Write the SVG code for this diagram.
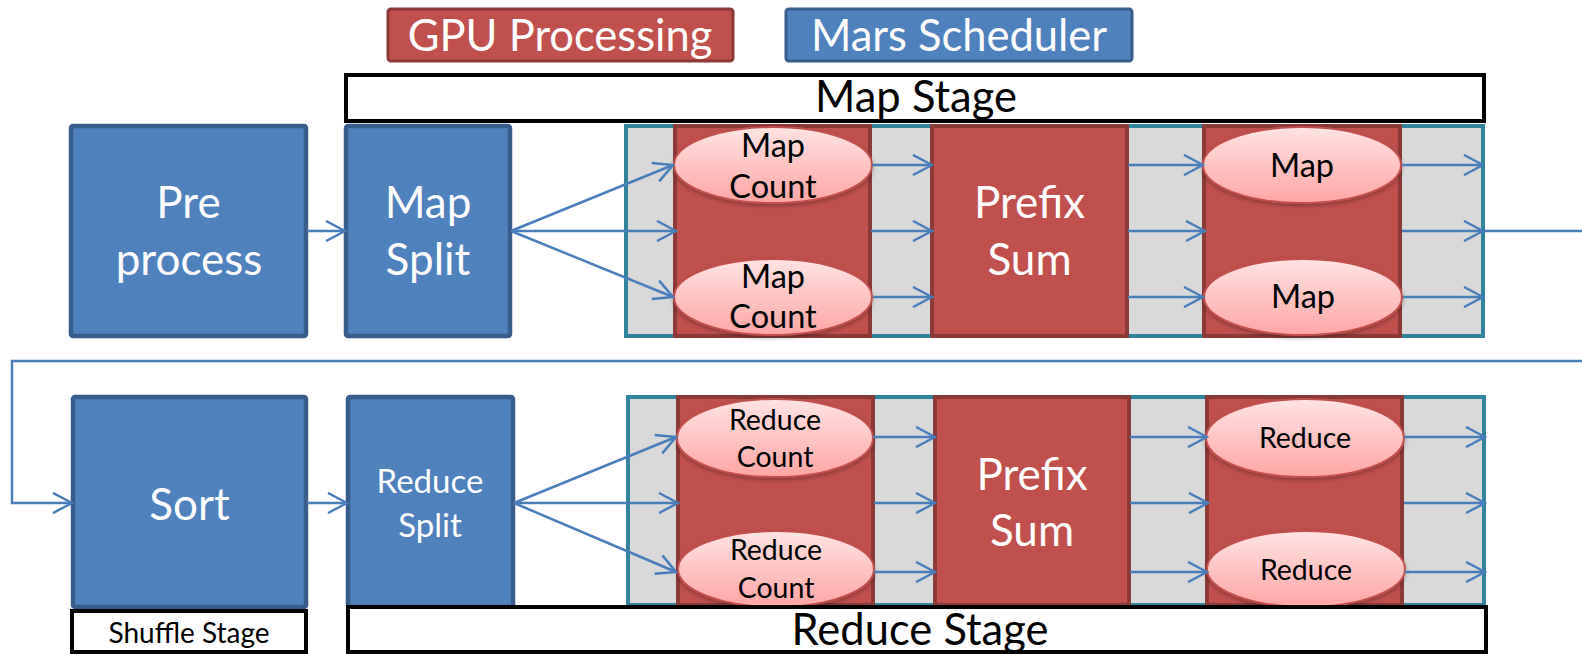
<svg xmlns="http://www.w3.org/2000/svg" width="1582" height="654" viewBox="0 0 1582 654">
<defs>
<style>
.blue{fill:#4F81BD;stroke:#385D8A;stroke-width:4.5}
.red{fill:#C0504D;stroke:#8C3A38;stroke-width:4}
.cont{fill:#D9D9D9;stroke:#31849B;stroke-width:4}
.stage{fill:#FFFFFF;stroke:#000000;stroke-width:4}
.ell{fill:url(#pink);stroke:#C0504D;stroke-width:2;filter:url(#sh)}
.conn{fill:none;stroke:#4A7EBB;stroke-width:2.5;marker-end:url(#arr)}
.line{fill:none;stroke:#4A7EBB;stroke-width:2.5}
text{font-family:Lato,"Liberation Sans",sans-serif;text-anchor:middle}
.w{fill:#FFFFFF}
.k{fill:#000000}
.big{font-size:44px}
.leg{font-size:43.5px}
.mid{font-size:32.5px}
.sm{font-size:28.5px}
.stg{font-size:43.5px}
</style>
<linearGradient id="pink" x1="0" y1="0" x2="0" y2="1">
<stop offset="0" stop-color="#FFE3E3"/>
<stop offset="1" stop-color="#FFA5A5"/>
</linearGradient>
<filter id="sh" x="-10%" y="-10%" width="120%" height="130%">
<feDropShadow dx="0" dy="2" stdDeviation="2" flood-color="#000000" flood-opacity="0.3"/>
</filter>
<marker id="arr" viewBox="0 0 22 22" refX="20" refY="11" markerWidth="22" markerHeight="22" markerUnits="userSpaceOnUse" orient="auto">
<path d="M1,1 L20,11 L1,21" fill="none" stroke="#4A7EBB" stroke-width="2.5"/>
</marker>
</defs>

<g id="legend-gpu">
<rect x="388" y="9" width="345" height="52" rx="3" fill="#C0504D" stroke="#8C3A38" stroke-width="3"/>
<text class="w leg" x="560" y="51">GPU Processing</text>
</g>
<g id="legend-mars">
<rect x="786" y="9" width="346" height="52" rx="3" fill="#4F81BD" stroke="#385D8A" stroke-width="3"/>
<text class="w leg" x="959" y="51">Mars Scheduler</text>
</g>

<g id="map-stage">
<rect class="stage" x="346" y="75" width="1138" height="46"/>
<text class="k stg" x="916" y="112">Map Stage</text>
</g>

<g id="preprocess">
<rect class="blue" x="71" y="126" width="235" height="210" rx="2"/>
<text class="w big" x="188.5" y="218">Pre</text>
<text class="w big" x="189" y="275">process</text>
</g>
<g id="map-split">
<rect class="blue" x="346" y="126" width="164" height="210" rx="2"/>
<text class="w big" x="428" y="218">Map</text>
<text class="w big" x="428" y="275">Split</text>
</g>

<g id="map-container">
<rect class="cont" x="626" y="126" width="857" height="210"/>
</g>
<g id="map-count-col">
<rect class="red" x="675" y="126" width="195" height="210"/>
</g>
<g id="map-count-1">
<ellipse class="ell" cx="773" cy="165" rx="99" ry="38"/>
<text class="k mid" x="773" y="157">Map</text>
<text class="k mid" x="773" y="198">Count</text>
</g>
<g id="map-count-2">
<ellipse class="ell" cx="773" cy="297" rx="99" ry="38"/>
<text class="k mid" x="773" y="288">Map</text>
<text class="k mid" x="773" y="328">Count</text>
</g>
<g id="map-prefix-sum">
<rect class="red" x="932" y="126" width="195" height="210"/>
<text class="w big" x="1029.5" y="218">Prefix</text>
<text class="w big" x="1029.5" y="275">Sum</text>
</g>
<g id="map-col">
<rect class="red" x="1204" y="126" width="196" height="210"/>
</g>
<g id="map-1">
<ellipse class="ell" cx="1302" cy="165" rx="99" ry="38"/>
<text class="k mid" x="1302" y="177">Map</text>
</g>
<g id="map-2">
<ellipse class="ell" cx="1303" cy="297" rx="99" ry="38"/>
<text class="k mid" x="1303" y="308">Map</text>
</g>

<g id="sort">
<rect class="blue" x="73" y="397" width="233" height="210" rx="2"/>
<text class="w big" x="189.5" y="520">Sort</text>
</g>
<g id="shuffle-stage">
<rect class="stage" x="72" y="611" width="234" height="41"/>
<text class="k" style="font-size:28px" x="189" y="643">Shuffle Stage</text>
</g>
<g id="reduce-split">
<rect class="blue" x="348" y="397" width="165" height="210" rx="2"/>
<text class="w" style="font-size:33px" x="430" y="493">Reduce</text>
<text class="w" style="font-size:33px" x="430" y="537">Split</text>
</g>

<g id="reduce-container">
<rect class="cont" x="628" y="397" width="856" height="208"/>
</g>
<g id="reduce-count-col">
<rect class="red" x="678" y="397" width="195" height="208"/>
</g>
<g id="reduce-count-1">
<ellipse class="ell" cx="775" cy="438" rx="98" ry="39"/>
<text class="k sm" x="775" y="430">Reduce</text>
<text class="k sm" x="775" y="467">Count</text>
</g>
<g id="reduce-count-2">
<ellipse class="ell" cx="776" cy="569" rx="98" ry="38"/>
<text class="k sm" x="776" y="560">Reduce</text>
<text class="k sm" x="776" y="598">Count</text>
</g>
<g id="reduce-prefix-sum">
<rect class="red" x="935" y="397" width="194" height="208"/>
<text class="w big" x="1032" y="490">Prefix</text>
<text class="w big" x="1032" y="546">Sum</text>
</g>
<g id="reduce-col">
<rect class="red" x="1207" y="397" width="195" height="208"/>
</g>
<g id="reduce-1">
<ellipse class="ell" cx="1305" cy="438" rx="99" ry="39"/>
<text class="k sm" x="1305" y="448">Reduce</text>
</g>
<g id="reduce-2">
<ellipse class="ell" cx="1306" cy="569" rx="99" ry="38"/>
<text class="k sm" x="1306" y="580">Reduce</text>
</g>

<g id="reduce-stage">
<rect class="stage" x="348" y="607" width="1138" height="45"/>
<text class="k stg" x="920" y="645">Reduce Stage</text>
</g>

<g id="connectors">
<line class="conn" x1="307" y1="231" x2="345" y2="231"/>
<line class="conn" x1="511" y1="231" x2="673" y2="165"/>
<line class="conn" x1="511" y1="231" x2="676" y2="231"/>
<line class="conn" x1="511" y1="231" x2="673" y2="297"/>
<line class="conn" x1="872" y1="165" x2="932" y2="165"/>
<line class="conn" x1="871" y1="231" x2="932" y2="231"/>
<line class="conn" x1="873" y1="297" x2="932" y2="297"/>
<line class="conn" x1="1128" y1="165" x2="1203" y2="165"/>
<line class="conn" x1="1128" y1="231" x2="1205" y2="231"/>
<line class="conn" x1="1128" y1="297" x2="1203" y2="297"/>
<line class="conn" x1="1402" y1="165" x2="1483" y2="165"/>
<line class="conn" x1="1402" y1="231" x2="1483" y2="231"/>
<line class="conn" x1="1403" y1="297" x2="1483" y2="297"/>
<line class="line" x1="1483" y1="231" x2="1582" y2="231"/>
<path class="conn" d="M1582,361 L12,361 L12,503 L72,503"/>
<line class="conn" x1="307" y1="503" x2="347" y2="503"/>
<line class="conn" x1="514" y1="503" x2="676" y2="437"/>
<line class="conn" x1="514" y1="503" x2="678" y2="503"/>
<line class="conn" x1="514" y1="503" x2="676" y2="572"/>
<line class="conn" x1="873" y1="437" x2="935" y2="437"/>
<line class="conn" x1="874" y1="503" x2="935" y2="503"/>
<line class="conn" x1="874" y1="572" x2="935" y2="572"/>
<line class="conn" x1="1130" y1="437" x2="1207" y2="437"/>
<line class="conn" x1="1130" y1="503" x2="1208" y2="503"/>
<line class="conn" x1="1130" y1="572" x2="1207" y2="572"/>
<line class="conn" x1="1404" y1="437" x2="1485" y2="437"/>
<line class="conn" x1="1404" y1="503" x2="1485" y2="503"/>
<line class="conn" x1="1405" y1="572" x2="1485" y2="572"/>
</g>
</svg>
